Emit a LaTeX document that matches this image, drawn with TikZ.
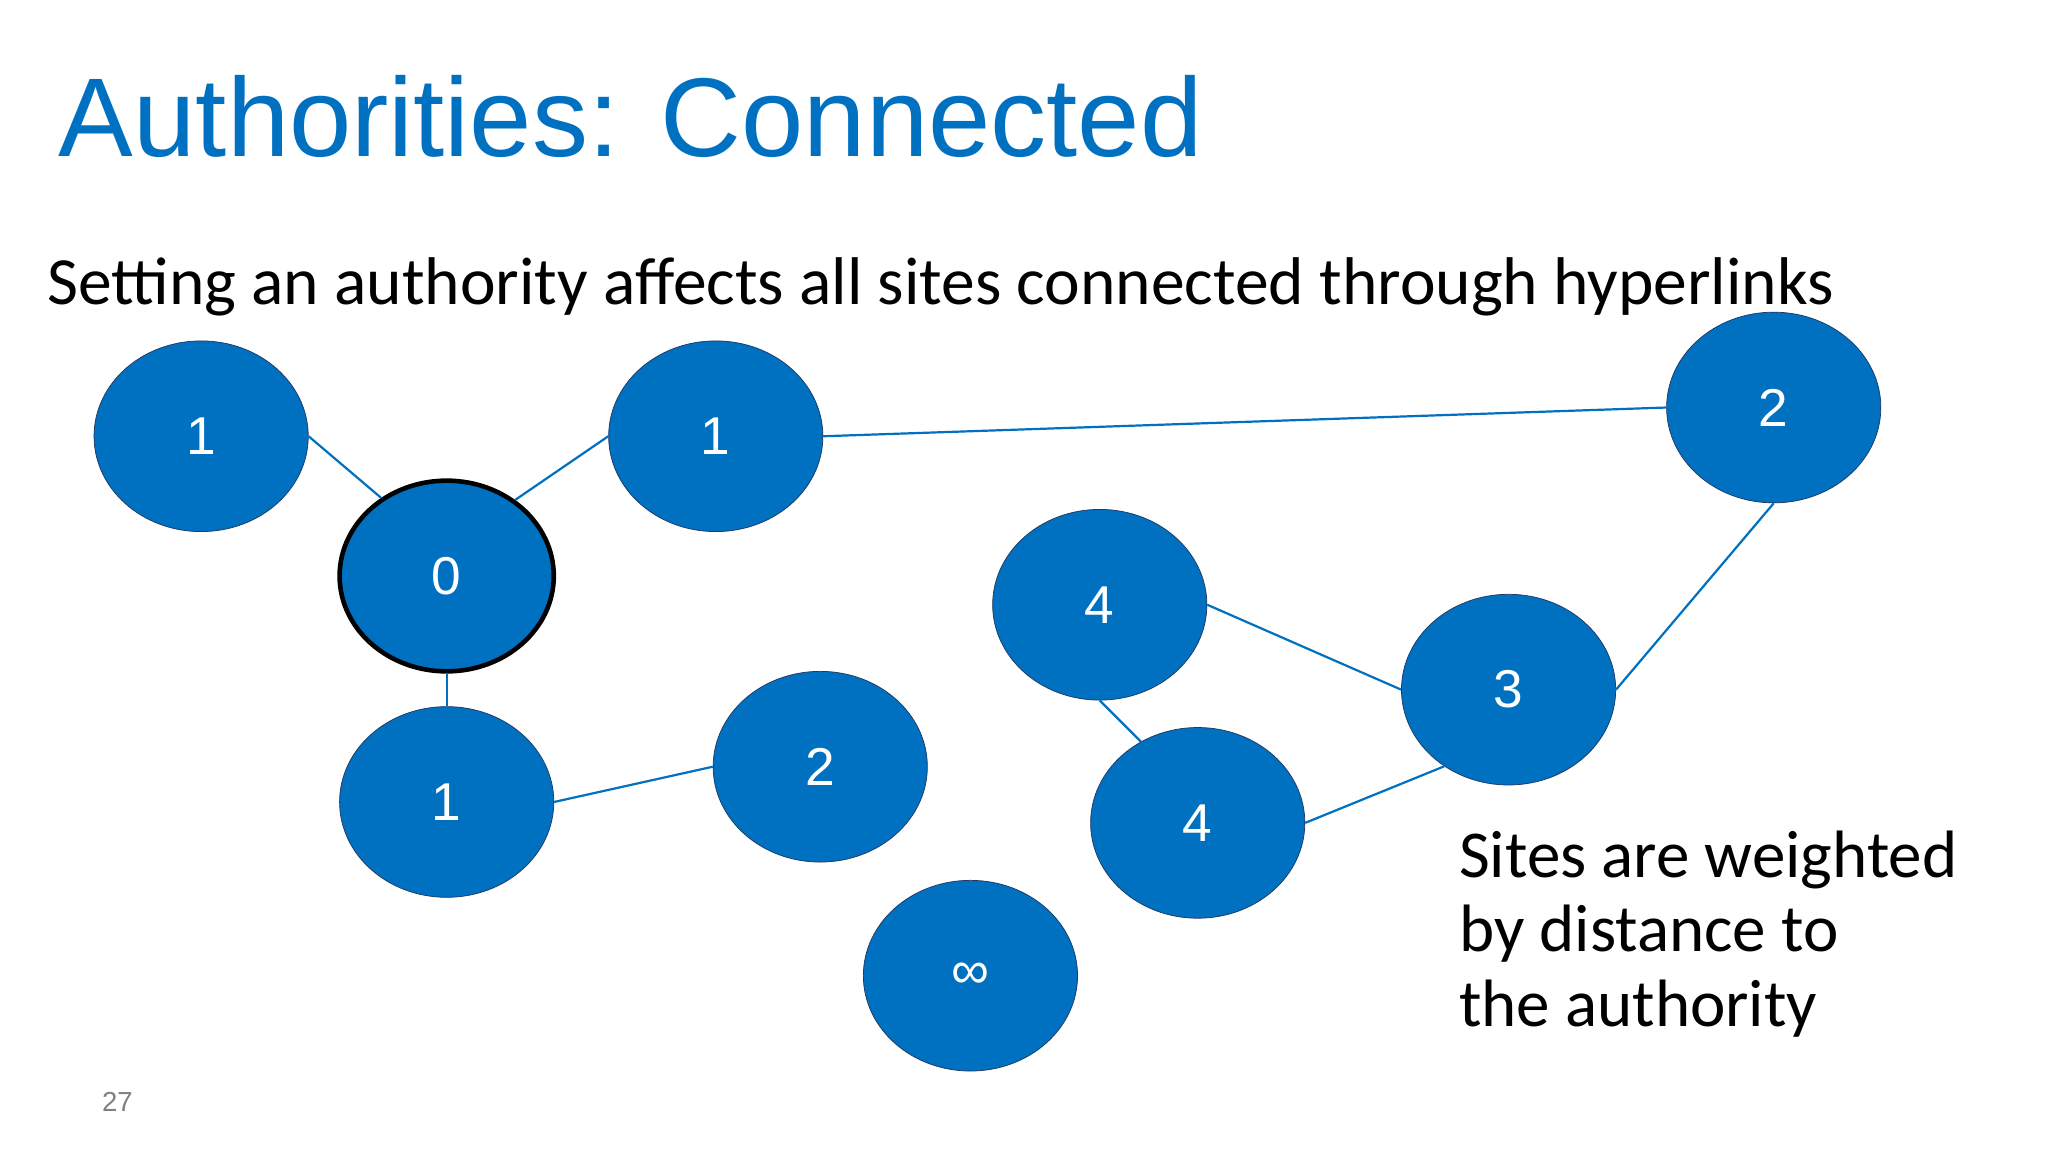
\documentclass[tikz,border=0pt]{standalone}
\usepackage{fontspec}
\setmainfont{Carlito}
\newfontfamily\arial{Liberation Sans}
\usetikzlibrary{shapes.geometric}
\definecolor{msblue}{HTML}{0070C0}
\definecolor{navy}{HTML}{1F3864}
\begin{document}
\begin{tikzpicture}[x=0.5mm,y=-0.5mm,
  site/.style={ellipse,fill=msblue,draw=navy,line width=0.8pt,minimum width=82mm,minimum height=73mm,inner sep=0pt,text=white,font=\arial\fontsize{58}{58}\selectfont},
  link/.style={draw=msblue,line width=2.4pt}]
\useasboundingbox (0,0) rectangle (1568,882);
\fill[white] (0,0) rectangle (1568,882);
\node[anchor=base west,inner sep=0pt,text=msblue,font=\arial\fontsize{122}{130}\selectfont] (title) at (45,120) {Authorities: Connected};
\node[anchor=base west,inner sep=0pt,font=\fontsize{73.5}{80}\selectfont] (sub) at (36,233) {Setting an authority affects all sites connected through hyperlinks};
\node[site] (a1) at (154,334) {1};
\node[site] (a2) at (548,334) {1};
\node[site,draw=black,line width=5pt] (z) at (342,441) {0};
\node[site] (b) at (342,614) {1};
\node[site] (c) at (628,587) {2};
\node[site] (d) at (1358,312) {2};
\node[site] (e) at (842,463) {4};
\node[site] (f) at (1155,528) {3};
\node[site] (g) at (917,630) {4};
\node[site] (inf) at (743,747) {∞};
\draw[link] (a1.east) -- (z.130);
\draw[link] (a2.west) -- (z.48);
\draw[link] (z.south) -- (b.north);
\draw[link] (b.east) -- (c.west);
\draw[link] (a2.east) -- (d.west);
\draw[link] (d.south) -- (f.east);
\draw[link] (e.east) -- (f.west);
\draw[link] (e.south) -- (g.125);
\draw[link] (g.east) -- (f.230);
\node[anchor=north west,inner sep=0pt,align=left,font=\fontsize{73}{81}\selectfont] (note) at (1117,636) {Sites are weighted\\by distance to\\the authority};
\node[anchor=base west,inner sep=0pt,text=gray,font=\arial\fontsize{30}{30}\selectfont] (pg) at (78,851) {27};
\end{tikzpicture}
\end{document}
